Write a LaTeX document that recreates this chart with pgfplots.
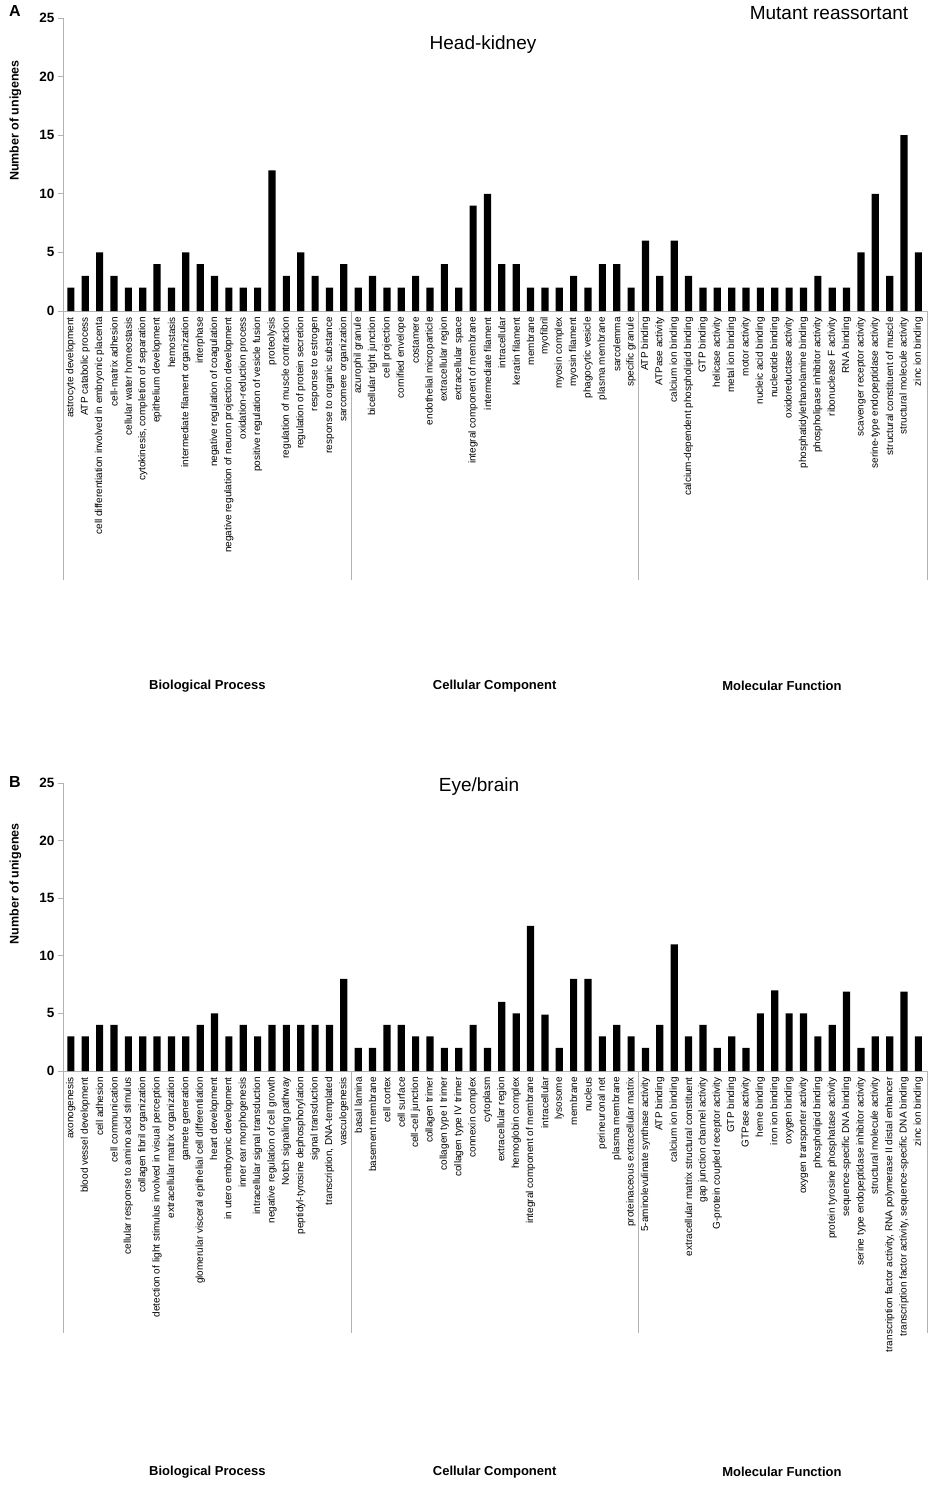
\documentclass[border=0pt]{standalone}
\usepackage{fontspec}
\setmainfont{Liberation Sans}
\usepackage{pgfplots}
\pgfplotsset{compat=1.18}

\pgfplotsset{
  goaxis/.style={
    width=864pt, scale only axis,
    xmin=-0.55, xmax=59.6, ymin=0, ymax=25,
    axis lines*=left,
    axis line style={gray!60, line width=0.9pt},
    ytick={0,5,...,25},
    ytick style={gray!60, line width=0.9pt},
    tick align=outside,
    major tick length=5pt,
    xtick={0,...,59},
    xtick style={draw=none},
    xticklabel style={rotate=90, anchor=east, font=\fontsize{10}{10}\selectfont, inner sep=1pt},
    yticklabel style={font=\bfseries\fontsize{13.5}{13.5}\selectfont},
    /pgf/number format/assume math mode=true,
    ylabel={Number of unigenes},
    ylabel style={at={(axis description cs:-0.055,0.65)}, anchor=center,
      font=\bfseries\fontsize{12.5}{13}\selectfont},
    ybar, bar width=0.5,
    clip=false,
  },
}
\tikzset{grplabel/.style={font=\bfseries\fontsize{13}{13}\selectfont}}

\begin{document}
\begin{tikzpicture}
\useasboundingbox (0,0) rectangle (927pt,-1485pt);

% ---------------- panel A: head-kidney
\begin{axis}[goaxis, height=293pt, at={(63pt,-311pt)}, anchor=south west,
  xticklabels={astrocyte development, ATP catabolic process,
    cell differentiation involved in embryonic placenta, cell-matrix adhesion,
    cellular water homeostasis, {cytokinesis, completion of separation},
    epithelium development, hemostasis, intermediate filament organization,
    interphase, negative regulation of coagulation,
    negative regulation of neuron projection development,
    oxidation-reduction process, positive regulation of vesicle fusion,
    proteolysis, regulation of muscle contraction,
    regulation of protein secretion, response to estrogen,
    response to organic substance, sarcomere organization,
    azurophil granule, bicellular tight junction, cell projection,
    cornified envelope, costamere, endothelial microparticle,
    extracellular region, extracellular space, integral component of membrane,
    intermediate filament, intracellular, keratin filament, membrane,
    myofibril, myosin complex, myosin filament, phagocytic vesicle,
    plasma membrane, sarcolemma, specific granule,
    ATP binding, ATPase activity, calcium ion binding,
    calcium-dependent phospholipid binding, GTP binding, helicase activity,
    metal ion binding, motor activity, nucleic acid binding,
    nucleotide binding, oxidoreductase activity,
    phosphatidylethanolamine binding, phospholipase inhibitor activity,
    ribonuclease F activity, RNA binding, scavenger receptor activity,
    serine-type endopeptidase activity, structural constituent of muscle,
    structural molecule activity, zinc ion binding},
]
\addplot[fill=black, draw=none] coordinates {
  (0,2) (1,3) (2,5) (3,3) (4,2) (5,2) (6,4) (7,2) (8,5) (9,4)
  (10,3) (11,2) (12,2) (13,2) (14,12) (15,3) (16,5) (17,3) (18,2) (19,4)
  (20,2) (21,3) (22,2) (23,2) (24,3) (25,2) (26,4) (27,2) (28,9) (29,10)
  (30,4) (31,4) (32,2) (33,2) (34,2) (35,3) (36,2) (37,4) (38,4) (39,2)
  (40,6) (41,3) (42,6) (43,3) (44,2) (45,2) (46,2) (47,2) (48,2) (49,2)
  (50,2) (51,2) (52,3) (53,2) (54,2) (55,5) (56,10) (57,3) (58,15) (59,5)
};
\pgfplotsinvokeforeach{-0.55,19.5,39.5,59.6}{
  \draw[gray!60, line width=0.9pt] (axis cs:#1,0) -- ++(0pt,-269pt);
}
\node[grplabel] at (axis cs:9.5,0) [yshift=-375pt] {Biological Process};
\node[grplabel] at (axis cs:29.5,0) [yshift=-375pt] {Cellular Component};
\node[grplabel] at (axis cs:49.5,0) [yshift=-375pt] {Molecular Function};
\end{axis}
\node[font=\fontsize{19}{19}\selectfont] at (483pt,-45pt) {Head-kidney};
\node[font=\fontsize{19}{19}\selectfont] at (829pt,-13pt) {Mutant reassortant};
\node[font=\bfseries\fontsize{16}{16}\selectfont] at (15pt,-11pt) {A};

% ---------------- panel B: eye/brain
\begin{axis}[goaxis, height=288pt, at={(63pt,-1071pt)}, anchor=south west,
  xticklabels={axonogenesis, blood vessel development, cell adhesion,
    cell communication, cellular response to amino acid stimulus,
    collagen fibril organization,
    detection of light stimulus involved in visual perception,
    extracellular matrix organization, gamete generation,
    glomerular visceral epithelial cell differentiation, heart development,
    in utero embryonic development, inner ear morphogenesis,
    intracellular signal transduction, negative regulation of cell growth,
    Notch signaling pathway, peptidyl-tyrosine dephosphorylation,
    signal transduction, {transcription, DNA-templated}, vasculogenesis,
    basal lamina, basement membrane, cell cortex, cell surface,
    cell-cell junction, collagen trimer, collagen type I trimer,
    collagen type IV trimer, connexin complex, cytoplasm,
    extracellular region, hemoglobin complex,
    integral component of membrane, intracellular, lysosome, membrane,
    nucleus, perineuronal net, plasma membrane,
    proteinaceous extracellular matrix,
    5-aminolevulinate synthase activity, ATP binding, calcium ion binding,
    extracellular matrix structural constituent,
    gap junction channel activity, G-protein coupled receptor activity,
    GTP binding, GTPase activity, heme binding, iron ion binding,
    oxygen binding, oxygen transporter activity, phospholipid binding,
    protein tyrosine phosphatase activity, sequence-specific DNA binding,
    serine type endopeptidase inhibitor activity,
    structural molecule activity,
    {transcription factor activity, RNA polymerase II distal enhancer},
    {transcription factor activity, sequence-specific DNA binding},
    zinc ion binding},
]
\addplot[fill=black, draw=none] coordinates {
  (0,3) (1,3) (2,4) (3,4) (4,3) (5,3) (6,3) (7,3) (8,3) (9,4)
  (10,5) (11,3) (12,4) (13,3) (14,4) (15,4) (16,4) (17,4) (18,4) (19,8)
  (20,2) (21,2) (22,4) (23,4) (24,3) (25,3) (26,2) (27,2) (28,4) (29,2)
  (30,6) (31,5) (32,12.6) (33,4.9) (34,2) (35,8) (36,8) (37,3) (38,4) (39,3)
  (40,2) (41,4) (42,11) (43,3) (44,4) (45,2) (46,3) (47,2) (48,5) (49,7)
  (50,5) (51,5) (52,3) (53,4) (54,6.9) (55,2) (56,3) (57,3) (58,6.9) (59,3)
};
\pgfplotsinvokeforeach{-0.55,19.5,39.5,59.6}{
  \draw[gray!60, line width=0.9pt] (axis cs:#1,0) -- ++(0pt,-262pt);
}
\node[grplabel] at (axis cs:9.5,0) [yshift=-401pt] {Biological Process};
\node[grplabel] at (axis cs:29.5,0) [yshift=-401pt] {Cellular Component};
\node[grplabel] at (axis cs:49.5,0) [yshift=-401pt] {Molecular Function};
\end{axis}
\node[font=\fontsize{19}{19}\selectfont] at (479pt,-787pt) {Eye/brain};
\node[font=\bfseries\fontsize{16}{16}\selectfont] at (15pt,-782pt) {B};
\end{tikzpicture}
\end{document}
